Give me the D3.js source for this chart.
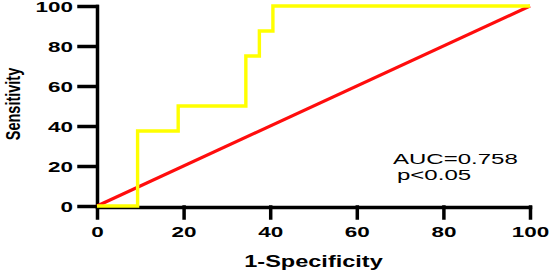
<!DOCTYPE html>
<html>
<head>
<meta charset="utf-8">
<script src="https://cdn.jsdelivr.net/npm/d3@7"></script>
<style>
  body { margin: 0; background: #fff; }
  svg { display: block; font-family: "Liberation Sans", Arial, sans-serif; }
</style>
</head>
<body>
<svg id="chart"></svg>
<script>
// ROC curve points (1-Specificity, Sensitivity), in %
const fpr = [0, 9.375, 9.375, 18.75, 18.75, 34.375, 34.375, 37.5, 37.5, 40.625, 40.625, 100]
const tpr = [0, 0, 37.5, 37.5, 50, 50, 75, 75, 87.5, 87.5, 100, 100]
// reference diagonal
const refX = [0, 100]
const refY = [0, 100]
const ticks = [0, 20, 40, 60, 80, 100]
const aucText = ['AUC=0.758', 'p<0.05']

const W = 550, H = 270
const margin = {top: 6, right: 20, bottom: 64, left: 97}
const width = W - margin.left - margin.right
const height = H - margin.top - margin.bottom
const stretch = 1.55 // the original picture is widened horizontally

const svg = d3.select('#chart').attr('width', W).attr('height', H)
const g = svg.append('g').attr('transform', `translate(${margin.left},${margin.top})`)

const x = d3.scaleLinear().domain([0, 100]).range([0, width])
const y = d3.scaleLinear().domain([0, 100]).range([height, 0])

// axes
const xAxis = g.append('g').attr('transform', `translate(0,${height + 1})`)
  .call(d3.axisBottom(x).tickValues(ticks).tickSize(11).tickSizeOuter(0).tickPadding(0))
xAxis.selectAll('text')
  .attr('y', 0).attr('dy', null)
  .attr('transform', `translate(0,30) scale(${stretch},1)`)

const yAxis = g.append('g')
  .call(d3.axisLeft(y).tickValues(ticks).tickSize(18).tickSizeOuter(0).tickPadding(0))
yAxis.selectAll('text')
  .attr('x', 0).attr('dy', '0.36em')
  .attr('transform', `translate(-24,0) scale(${stretch},1)`)

g.selectAll('.domain, .tick line').attr('stroke', '#000').attr('stroke-width', 3.5).attr('stroke-linecap', 'square')
g.selectAll('.tick text').attr('fill', '#000').attr('font-size', 14.5).attr('font-weight', 'bold')
  .attr('font-family', '"Liberation Sans", Arial, sans-serif')

// lines
const line = d3.line().x(d => x(d[0])).y(d => y(d[1]))
g.append('path').datum(d3.zip(refX, refY)).attr('d', line)
  .attr('fill', 'none').attr('stroke', '#ff0d0d').attr('stroke-width', 3.2)
g.append('path').datum(d3.zip(fpr, tpr)).attr('d', line)
  .attr('fill', 'none').attr('stroke', '#ffff00').attr('stroke-width', 3.4)

// axis titles
svg.append('text')
  .attr('transform', `translate(${margin.left + width / 2},267) scale(1.47,1)`)
  .attr('text-anchor', 'middle').attr('font-size', 16).attr('font-weight', 'bold')
  .text('1-Specificity')

svg.append('text')
  .attr('transform', 'translate(19.5,104) rotate(-90) scale(1,1.45)')
  .attr('text-anchor', 'middle').attr('font-size', 14.5).attr('font-weight', 'bold')
  .text('Sensitivity')

// annotation
svg.append('text')
  .attr('transform', `translate(393,164) scale(${stretch},1)`)
  .attr('font-size', 15.5).text(aucText[0])
svg.append('text')
  .attr('transform', `translate(397,180) scale(${stretch},1)`)
  .attr('font-size', 15.5).text(aucText[1])
</script>
</body>
</html>
